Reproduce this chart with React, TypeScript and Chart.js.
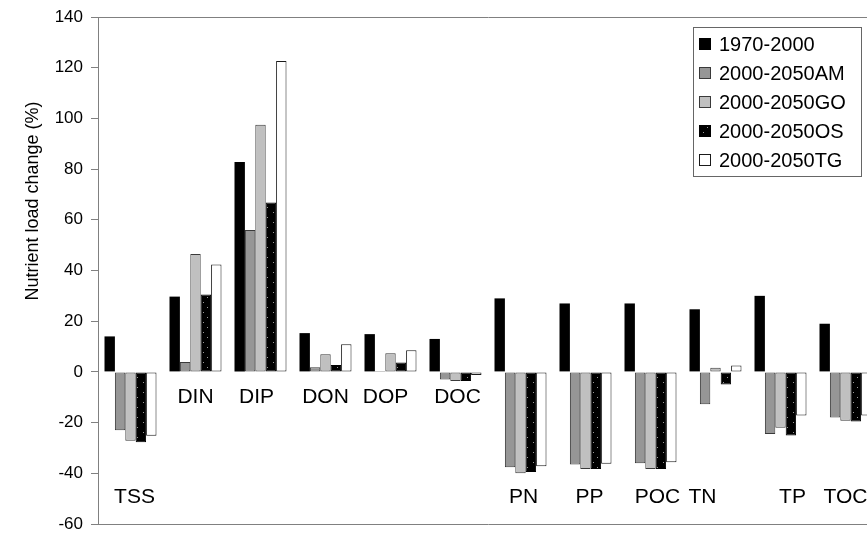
import React, { useEffect, useRef } from "react";
import { Chart, registerables } from "chart.js";

Chart.register(...registerables);

const categories = ["TSS", "DIN", "DIP", "DON", "DOP", "DOC", "PN", "PP", "POC", "TN", "TP", "TOC"];
const seriesNames = ["1970-2000", "2000-2050AM", "2000-2050GO", "2000-2050OS", "2000-2050TG"];
const s1970_2000 = [14, 29.7, 82.8, 15.3, 14.9, 13, 29, 27, 27, 24.7, 30, 19];
const s2050AM = [-23, 3.9, 56, 1.8, 0.4, -3, -37.6, -36.5, -36, -12.8, -24.5, -18];
const s2050GO = [-27.2, 46.5, 97.5, 7, 7.4, -3.6, -40, -38.3, -38.3, 1.6, -22, -19.3];
const s2050OS = [-27.8, 30.5, 66.8, 2.7, 3.7, -3.6, -39.5, -38.3, -38.3, -5, -25.1, -19.6];
const s2050TG = [-25.2, 42.4, 122.6, 10.9, 8.5, -1.2, -37.2, -36.2, -35.6, 2.5, -17.2, -17.2];
const yTicksMin = -60;
const yTicksMax = 140;
const yTickStep = 20;
const yTitle = "Nutrient load change (%)";

// layout of category labels (row value on the y scale, horizontal nudge in px)
const labelRowValue = [-49.5, -10, -10, -10, -10, -10, -49.5, -49.5, -49.5, -49.5, -49.5, -49.5];
const labelNudge = [4, 0, -4, 0, -5, 2, 3, 4, 7, -13, 12, 0];

const FONT = "'Liberation Sans', Arial, Helvetica, sans-serif";

function makeDotPattern(): CanvasPattern | string {
  const c = document.createElement("canvas");
  c.width = 10;
  c.height = 10;
  const g = c.getContext("2d");
  if (!g) return "#000";
  g.fillStyle = "#000";
  g.fillRect(0, 0, 10, 10);
  g.fillStyle = "#9a9a9a";
  g.fillRect(3, 2, 1, 1);
  g.fillRect(7, 7, 1, 1);
  const ctx = document.createElement("canvas").getContext("2d");
  const p = ctx ? ctx.createPattern(c, "repeat") : null;
  return p || "#000";
}

export default function App() {
  const ref = useRef<HTMLCanvasElement | null>(null);

  useEffect(() => {
    const canvas = ref.current;
    if (!canvas) return;
    const dots = makeDotPattern();
    const fills: any[] = ["#000000", "#969696", "#c0c0c0", dots, "#ffffff"];
    const borders = ["#000000", "#3a3a3a", "#3a3a3a", "#000000", "#1a1a1a"];
    const values = [s1970_2000, s2050AM, s2050GO, s2050OS, s2050TG];

    const labelsPlugin = {
      id: "catLabels",
      afterDatasetsDraw(chart: any) {
        const { ctx, scales } = chart;
        const xs = scales.x;
        const ys = scales.y;
        ctx.save();
        ctx.fillStyle = "#000";
        ctx.font = `21px ${FONT}`;
        ctx.textAlign = "center";
        ctx.textBaseline = "middle";
        categories.forEach((c, i) => {
          const x = xs.getPixelForValue(i) + labelNudge[i];
          const y = ys.getPixelForValue(labelRowValue[i]);
          ctx.fillText(c, x, y);
        });
        // y axis title
        ctx.translate(33, 201);
        ctx.rotate(-Math.PI / 2);
        ctx.font = `18px ${FONT}`;
        ctx.fillText(yTitle, 0, 0);
        ctx.restore();
      },
    };

    const legendPlugin = {
      id: "boxLegend",
      afterDraw(chart: any) {
        const { ctx } = chart;
        const bx = 693.5, by = 27.5, bw = 168, bh = 149;
        ctx.save();
        ctx.fillStyle = "#fff";
        ctx.fillRect(bx, by, bw, bh);
        ctx.strokeStyle = "#666";
        ctx.lineWidth = 1;
        ctx.strokeRect(bx, by, bw, bh);
        ctx.font = `20px ${FONT}`;
        ctx.textBaseline = "middle";
        ctx.textAlign = "left";
        seriesNames.forEach((name, i) => {
          const cy = 44 + i * 29;
          ctx.fillStyle = fills[i];
          ctx.fillRect(699, cy - 6, 12, 12);
          ctx.strokeStyle = borders[i];
          ctx.strokeRect(699.5, cy - 5.5, 11, 11);
          ctx.fillStyle = "#000";
          ctx.fillText(name, 719, cy + 1);
        });
        ctx.restore();
      },
    };

    const chart = new Chart(canvas, {
      type: "bar",
      data: {
        labels: categories,
        datasets: seriesNames.map((name, i) => ({
          label: name,
          data: values[i],
          backgroundColor: fills[i],
          borderColor: borders[i],
          borderWidth: i === 0 ? 0 : 1,
          borderSkipped: false,
          categoryPercentage: 0.8,
          barPercentage: 1.0,
        })),
      },
      options: {
        animation: false,
        responsive: false,
        maintainAspectRatio: false,
        devicePixelRatio: 1,
        layout: { padding: { top: 17, bottom: 9, left: 0, right: 0 } },
        plugins: {
          legend: { display: false },
          tooltip: { enabled: false },
          title: { display: false },
        },
        scales: {
          x: {
            display: false,
          },
          y: {
            min: yTicksMin,
            max: yTicksMax,
            afterFit(scale: any) {
              scale.width = 98;
              scale.paddingTop = 0;
              scale.paddingBottom = 0;
            },
            ticks: {
              stepSize: yTickStep,
              color: "#000",
              font: { family: FONT, size: 17 },
              padding: 8,
            },
            grid: {
              color: (c: any) =>
                c.tick && (c.tick.value === yTicksMax || c.tick.value === yTicksMin) ? "#808080" : "rgba(0,0,0,0)",
              tickColor: "#808080",
              tickLength: 7,
              lineWidth: 1,
            },
            border: { color: "#808080", width: 1 },
          },
        },
      },
      plugins: [labelsPlugin, legendPlugin],
    } as any);

    return () => chart.destroy();
  }, []);

  return (
    <div style={{ position: "fixed", left: 0, top: 0, width: 867, height: 533, overflow: "hidden", background: "#fff" }}>
      <canvas ref={ref} width={878} height={533} style={{ display: "block", width: 878, height: 533 }} />
    </div>
  );
}
